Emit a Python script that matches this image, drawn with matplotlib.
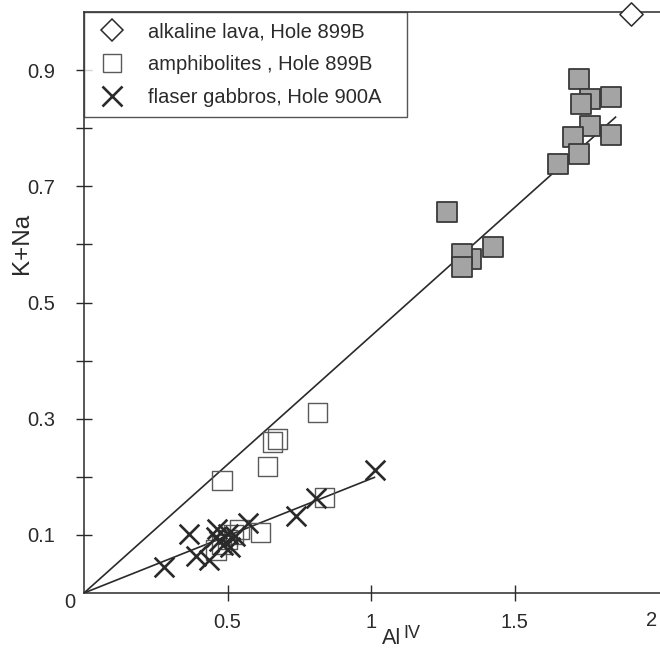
import matplotlib
matplotlib.use("Agg")
import matplotlib.pyplot as plt
from matplotlib.lines import Line2D

plt.rcParams['font.family'] = ['Liberation Sans', 'DejaVu Sans']

# alkaline lava, Hole 899B
lava_x = [1.907]
lava_y = [0.996]

# amphibolites, Hole 899B (open squares)
amph_x = [0.815, 0.675, 0.657, 0.639, 0.481, 0.839, 0.616, 0.541,
          0.520, 0.500, 0.480, 0.460]
amph_y = [0.310, 0.265, 0.260, 0.217, 0.194, 0.165, 0.104, 0.110,
          0.100, 0.092, 0.084, 0.074]

# amphiboles from the upper group (shaded squares)
shaded_x = [1.726, 1.764, 1.733, 1.835, 1.763, 1.705, 1.835, 1.725, 1.650,
            1.266, 1.426, 1.347, 1.316, 1.316]
shaded_y = [0.884, 0.850, 0.842, 0.853, 0.803, 0.785, 0.788, 0.756, 0.739,
            0.655, 0.595, 0.575, 0.583, 0.561]

# flaser gabbros, Hole 900A
gab_x = [1.014, 0.808, 0.737, 0.570, 0.365, 0.465, 0.460, 0.500, 0.525,
         0.485, 0.510, 0.280, 0.390, 0.437, 0.470]
gab_y = [0.212, 0.163, 0.133, 0.120, 0.102, 0.110, 0.097, 0.101, 0.098,
         0.083, 0.080, 0.045, 0.063, 0.057, 0.090]

# trend lines through the origin: (x_end, y_end)
upper_trend = (1.852, 0.819)
lower_trend = (1.012, 0.199)

x_ticks = [0.5, 1, 1.5]
x_ticklabels = ['0.5', '1', '1.5']
y_ticks = [0.1, 0.2, 0.3, 0.4, 0.5, 0.6, 0.7, 0.8, 0.9]
y_ticklabels = ['0.1', '', '0.3', '', '0.5', '', '0.7', '', '0.9']

legend_labels = ['alkaline lava, Hole 899B',
                 'amphibolites , Hole 899B',
                 'flaser gabbros, Hole 900A']

INK = '#2a2a2a'
W, H = 660, 649
TICK_FS = 14.5

fig = plt.figure(figsize=(W / 100, H / 100), dpi=100)
ax = fig.add_axes([84 / W, 56 / H, 576 / W, 581 / H])
ax.set_xlim(0, 576 / 287)
ax.set_ylim(0, 1.0)

ax.plot([0, upper_trend[0]], [0, upper_trend[1]], color=INK, lw=1.2, zorder=2)
ax.plot([0, lower_trend[0]], [0, lower_trend[1]], color=INK, lw=1.2, zorder=2)

ax.scatter(shaded_x, shaded_y, marker='s', s=190, facecolor='#a4a4a4',
           edgecolor='#3a3a3a', linewidth=1.3, zorder=3)
ax.scatter(amph_x, amph_y, marker='s', s=190, facecolor='none',
           edgecolor='#5a5a5a', linewidth=1.0, zorder=3)
ax.scatter(gab_x, gab_y, marker='x', s=200, color=INK, linewidth=1.9, zorder=4)
ax.scatter(lava_x, lava_y, marker='D', s=140, facecolor='white',
           edgecolor=INK, linewidth=1.1, zorder=5, clip_on=False)

for side in ('left', 'bottom', 'top'):
    ax.spines[side].set_color(INK)
    ax.spines[side].set_linewidth(1.1)
ax.spines['right'].set_visible(False)

ax.set_xticks(x_ticks)
ax.set_xticklabels(x_ticklabels)
ax.set_yticks(y_ticks)
ax.set_yticklabels(y_ticklabels)
ax.tick_params(axis='both', direction='inout', length=11.5, width=1.0,
               color=INK, labelsize=TICK_FS, labelcolor=INK)
ax.tick_params(axis='y', pad=15)
ax.tick_params(axis='x', pad=9)

ax.text(-0.049, -0.017, '0', fontsize=TICK_FS, color=INK, ha='center',
        va='center', clip_on=False)
ax.text(1.979, -0.048, '2', fontsize=TICK_FS, color=INK, ha='center',
        va='center', clip_on=False)

ax.set_ylabel('K+Na', fontsize=17.5, color=INK)
ax.yaxis.set_label_coords(-0.088, 0.602)

fig.text(382 / W, 1 - 644 / H, 'Al', fontsize=15.5, color=INK,
         ha='left', va='baseline')
fig.text(403 / W, 1 - 638 / H, 'IV', fontsize=13, color=INK,
         ha='left', va='baseline')

handles = [
    Line2D([], [], ls='none', marker='D', markersize=11.5, mfc='white',
           mec=INK, mew=1.1),
    Line2D([], [], ls='none', marker='s', markersize=13.5, mfc='none',
           mec='#5a5a5a', mew=1.0),
    Line2D([], [], ls='none', marker='x', markersize=14, color=INK, mew=1.9),
]
leg = ax.legend(handles, legend_labels, loc='upper left',
                bbox_to_anchor=(0, 0, 323 / 576, 1.0), mode='expand',
                borderaxespad=0, fontsize=14.5, frameon=True, fancybox=False,
                borderpad=0.5, handlelength=1.83, handletextpad=0.83,
                labelspacing=0.7)
leg.get_frame().set_edgecolor(INK)
leg.get_frame().set_linewidth(1.0)
for t in leg.get_texts():
    t.set_color(INK)

fig.savefig('out.png', dpi=100)
